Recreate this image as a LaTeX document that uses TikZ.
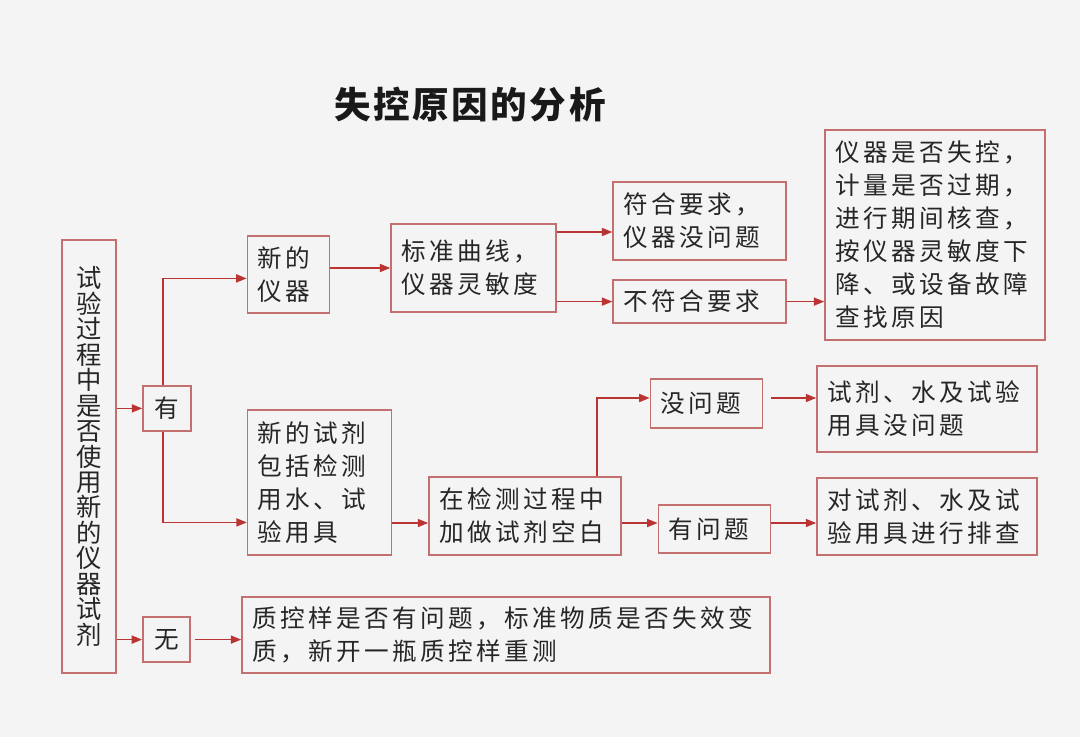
\documentclass[tikz,border=0pt]{standalone}
\usepackage{fontspec}
\setmainfont{Noto Sans CJK SC}
\usetikzlibrary{arrows.meta, positioning, calc}

\definecolor{boxred}{RGB}{196,112,112}
\definecolor{linered}{RGB}{186,52,52}
\definecolor{bggray}{RGB}{244,244,244}

\begin{document}
\begin{tikzpicture}[
        box/.style={rectangle, draw=boxred, line width=1.1pt, fill=bggray, align=left, inner xsep=0.25cm, inner ysep=0pt,
            font=\fontsize{17.5}{23.5}\selectfont\addfontfeature{LetterSpace=14}, text=black!85},
        vbox/.style={rectangle, draw=boxred, line width=1.1pt, fill=bggray, align=center, inner sep=0pt,
            font=\fontsize{18}{18.1}\selectfont, text=black!85},
        arrow/.style={-{Triangle[length=2.6mm, width=2mm]}, line width=1.1pt, draw=linered}
    ]
        % background and page size
        \fill[bggray] (0,0) rectangle (27,-18.425);
        \useasboundingbox (0,0) rectangle (27,-18.425);

        \node[font=\fontsize{26}{30}\selectfont\bfseries\addfontfeature{LetterSpace=7}, text=black!90] (title) at (11.75,-2.625) {失控原因的分析};

        \node[vbox, minimum width=1.35cm, minimum height=10.825cm] (question) at (2.225,-11.41)
            {试\\验\\过\\程\\中\\是\\否\\使\\用\\新\\的\\仪\\器\\试\\剂};
        \node[box, minimum width=1.2cm, minimum height=1.125cm, inner xsep=0pt, align=center] (yes) at (4.175,-10.21) {有};
        \node[box, minimum width=1.175cm, minimum height=1.125cm, inner xsep=0pt, align=center] (no) at (4.16,-15.99) {无};

        \node[box, minimum width=2.025cm, minimum height=1.925cm, text width=1.55cm] (newinst) at (7.21,-6.86) {新的\\仪器};
        \node[box, minimum width=4.125cm, minimum height=2.2cm, text width=3.625cm] (curve) at (11.84,-6.70) {标准曲线，\\仪器灵敏度};
        \node[box, minimum width=4.325cm, minimum height=1.95cm, text width=3.825cm] (pass) at (17.49,-5.525) {符合要求，\\仪器没问题};
        \node[box, minimum width=4.325cm, minimum height=1.075cm, text width=3.825cm] (fail) at (17.49,-7.54) {不符合要求};
        \node[box, minimum width=5.5cm, minimum height=5.25cm, text width=5cm] (instcheck) at (23.375,-5.875)
            {仪器是否失控，\\计量是否过期，\\进行期间核查，\\按仪器灵敏度下\\降、或设备故障\\查找原因};

        \node[box, minimum width=3.575cm, minimum height=3.625cm, text width=3.1cm] (newreag) at (7.99,-12.06)
            {新的试剂\\包括检测\\用水、试\\验用具};
        \node[box, minimum width=4.75cm, minimum height=1.95cm, text width=4.3cm] (blank) at (13.125,-12.9)
            {在检测过程中\\加做试剂空白};
        \node[box, minimum width=2.775cm, minimum height=1.225cm, text width=2.3cm] (ok) at (17.66,-10.09) {没问题};
        \node[box, minimum width=2.775cm, minimum height=1.2cm, text width=2.3cm] (notok) at (17.86,-13.225) {有问题};
        \node[box, minimum width=5.5cm, minimum height=2.15cm, text width=5cm] (reagok) at (23.175,-10.225)
            {试剂、水及试验\\用具没问题};
        \node[box, minimum width=5.5cm, minimum height=1.925cm, text width=5cm] (reagcheck) at (23.175,-12.91)
            {对试剂、水及试\\验用具进行排查};

        \node[box, minimum width=13.2cm, minimum height=1.9cm, text width=12.7cm] (qcsample) at (12.65,-15.875)
            {质控样是否有问题，标准物质是否失效变\\质，新开一瓶质控样重测};

        % connectors
        \draw[arrow] (question.east |- yes) -- (yes);
        \draw[arrow] (question.east |- no) -- (no);
        \draw[arrow] ([xshift=-0.1cm]yes.north) |- ([yshift=-0.1cm]newinst.west);
        \draw[arrow] ([xshift=-0.1cm]yes.south) |- ([yshift=-1.0cm]newreag.west);
        \draw[arrow] ([xshift=0.1cm]no.east) -- (no -| qcsample.west);
        \draw[arrow] (newinst.east |- curve) -- (curve);
        \draw[arrow] ([yshift=-0.275cm]pass.west -| curve.east) -- ([yshift=-0.275cm]pass.west);
        \draw[arrow] (curve.east |- fail) -- (fail);
        \draw[arrow] (fail) -- (fail -| instcheck.west);
        \draw[arrow] ([yshift=-0.175cm]blank.west -| newreag.east) -- ([yshift=-0.175cm]blank.west);
        \draw[arrow] ([xshift=1.8cm]blank.north) |- ([yshift=0.14cm]ok.west);
        \draw[arrow] ([yshift=-0.175cm]blank.east) -- ([yshift=-0.175cm]blank.east -| notok.west);
        \draw[arrow] ([xshift=0.2cm,yshift=0.14cm]ok.east) -- ([yshift=0.14cm]ok.east -| reagok.west);
        \draw[arrow] ([yshift=0.15cm]notok.east) -- ([yshift=0.15cm]notok.east -| reagcheck.west);
\end{tikzpicture}
\end{document}
